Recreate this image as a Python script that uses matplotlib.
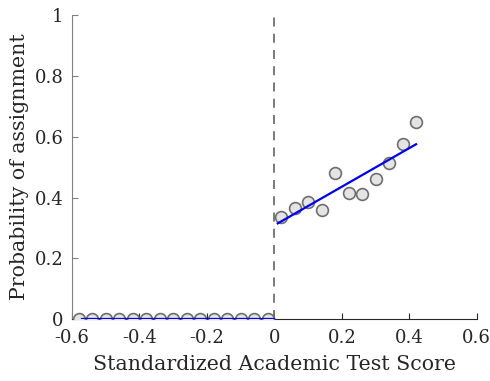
import matplotlib
matplotlib.use('Agg')
import matplotlib.pyplot as plt

# data
x_left = [-0.58, -0.54, -0.50, -0.46, -0.42, -0.38, -0.34, -0.30,
          -0.26, -0.22, -0.18, -0.14, -0.10, -0.06, -0.02]
y_left = [0] * len(x_left)
x_right = [0.02, 0.06, 0.10, 0.14, 0.18, 0.22, 0.26, 0.30, 0.34, 0.38, 0.42]
y_right = [0.335, 0.365, 0.386, 0.359, 0.482, 0.416, 0.413, 0.462, 0.513, 0.577, 0.647]
fit_left_x = [-0.57, 0.0]
fit_left_y = [0.0, 0.0]
fit_right_x = [0.01, 0.42]
fit_right_y = [0.315, 0.575]
cutoff = 0.0

xticks = [-0.6, -0.4, -0.2, 0, 0.2, 0.4, 0.6]
xticklabels = ['-0.6', '-0.4', '-0.2', '0', '0.2', '0.4', '0.6']
yticks = [0, 0.2, 0.4, 0.6, 0.8, 1]
yticklabels = ['0', '0.2', '0.4', '0.6', '0.8', '1']

plt.rcParams['font.family'] = ['DejaVu Serif']
plt.rcParams['axes.unicode_minus'] = False

fig = plt.figure(figsize=(4.9, 3.81), dpi=100)
ax = fig.add_axes([0.147, 0.162, 0.826, 0.799])

mk = dict(marker='o', linestyle='none', markersize=8.5, markerfacecolor='#e4e4e4',
          markeredgecolor='#6e6e6e', markeredgewidth=1.2, zorder=3)
ax.plot(x_left, y_left, **mk)
ax.plot(x_right, y_right, **mk)
ax.plot(fit_left_x, fit_left_y, color='#0000ee', linewidth=1.6, zorder=4)
ax.plot(fit_right_x, fit_right_y, color='#0000ee', linewidth=1.6, zorder=4)
ax.plot([cutoff, cutoff], [0, 1], color='#707070', linestyle=(0, (5, 4)), linewidth=1.3, zorder=2)

ax.set_xlim(-0.6, 0.6)
ax.set_ylim(0, 1)
ax.set_xticks(xticks)
ax.set_xticklabels(xticklabels)
ax.set_yticks(yticks)
ax.set_yticklabels(yticklabels)

for s in ['top', 'right']:
    ax.spines[s].set_visible(False)
ax.spines['left'].set_color('#808080')
ax.spines['bottom'].set_color('#262626')
ax.tick_params(direction='in', length=4, width=0.8, colors='#262626', labelsize=13)
ax.tick_params(axis='x', pad=7)
ax.tick_params(axis='y', colors='#808080', labelcolor='#262626', pad=6)

ax.set_xlabel('Standardized Academic Test Score', fontsize=14.8, color='#262626', labelpad=6)
ax.set_ylabel('Probability of assignment', fontsize=14.8, color='#262626', labelpad=4)

fig.savefig('out.png', dpi=100)
